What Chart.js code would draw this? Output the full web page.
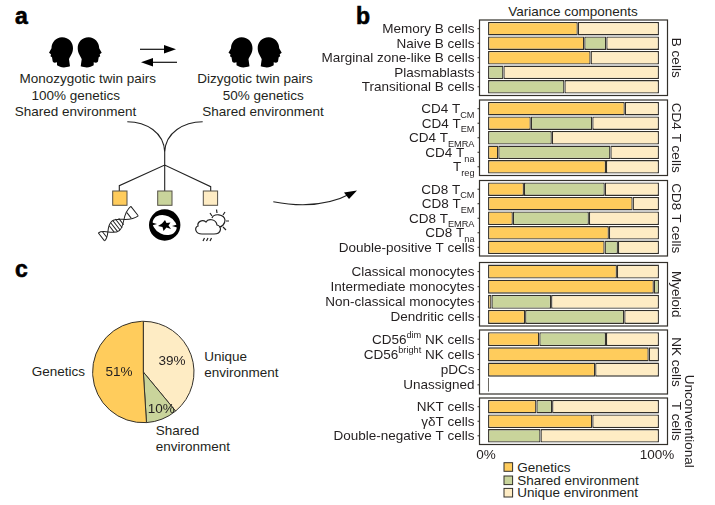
<!DOCTYPE html>
<html>
<head>
<meta charset="utf-8">
<title>Variance components</title>
<script src="https://cdn.jsdelivr.net/npm/chart.js@4"></script>
<style>
  html, body { margin: 0; padding: 0; background: #fff; }
  #page { position: relative; width: 715px; height: 505px; overflow: hidden; }
  #page canvas, #page svg { position: absolute; left: 0; top: 0; }
  svg text { font-family: "Liberation Sans", Arial, sans-serif; font-size: 13.5px; fill: #231f20; dominant-baseline: central; }
  svg text.letter { font-size: 23px; font-weight: bold; stroke: #000; stroke-width: .6px; fill: #000; }
</style>
</head>
<body>
<div id="page">
  <svg id="art" width="715" height="505" viewBox="0 0 715 505"></svg>
</div>
<script>
// values, percent of variance
const seriesNames = ['Genetics', 'Shared environment', 'Unique environment'];
const seriesColors = ['#ffcc5c', '#c9d49b', '#feecc4'];
const lineColor = '#33302a';

const bCellLabels = ['Memory B cells', 'Naive B cells', 'Marginal zone-like B cells', 'Plasmablasts', 'Transitional B cells'];
const bCellGenetics = [52.5, 56.3, 60, 0, 0];
const bCellShared = [0, 12.9, 0, 9, 44.7];
const bCellUnique = [47.5, 30.8, 40, 91, 55.3];

const cd4Labels = ['CD4 T_{CM}', 'CD4 T_{EM}', 'CD4 T_{EMRA}', 'CD4 T_{na}', 'T_{reg}'];
const cd4Genetics = [80, 25, 0, 6, 69];
const cd4Shared = [0, 36, 37.3, 65.6, 0];
const cd4Unique = [20, 39, 62.7, 28.4, 31];

const cd8Labels = ['CD8 T_{CM}', 'CD8 T_{EM}', 'CD8 T_{EMRA}', 'CD8 T_{na}', 'Double-positive T cells'];
const cd8Genetics = [21, 84.6, 14.5, 70.7, 68.2];
const cd8Shared = [47.3, 0, 44.5, 0, 7.8];
const cd8Unique = [31.7, 15.4, 41, 29.3, 24];

const myeloidLabels = ['Classical monocytes', 'Intermediate monocytes', 'Non-classical monocytes', 'Dendritic cells'];
const myeloidGenetics = [75.4, 97, 2, 21.7];
const myeloidShared = [0, 3, 34.9, 58];
const myeloidUnique = [24.6, 0, 63.1, 20.3];

const nkLabels = ['CD56^{dim} NK cells', 'CD56^{bright} NK cells', 'pDCs', 'Unassigned'];
const nkGenetics = [30, 94, 62.7, 0.5];
const nkShared = [39, 0, 0, 0];
const nkUnique = [31, 6, 37.3, 0];

const otherLabels = ['NKT cells', '\u03b3\u03b4T cells', 'Double-negative T cells'];
const otherGenetics = [28.3, 61, 0];
const otherShared = [9.2, 0, 30.7];
const otherUnique = [62.5, 39, 69.3];

const pieLabels = ['Unique environment', 'Shared environment', 'Genetics'];
const pieValues = [39, 10, 51];
const xTickValues = [0, 100];
const xTickLabels = ['0%', '100%'];

// frame boxes of the panels on the page
const frameLeft = 479.5, frameRight = 667.5;
const labelFont = '13.5px "Liberation Sans", Arial, sans-serif';
const smallFont = '9.2px "Liberation Sans", Arial, sans-serif';
const panels = [
  { labels: bCellLabels, g: bCellGenetics, s: bCellShared, u: bCellUnique, top: 20, bottom: 95.5, strip: ['B cells'] },
  { labels: cd4Labels, g: cd4Genetics, s: cd4Shared, u: cd4Unique, top: 100, bottom: 175.5, strip: ['CD4 T cells'] },
  { labels: cd8Labels, g: cd8Genetics, s: cd8Shared, u: cd8Unique, top: 180.5, bottom: 256, strip: ['CD8 T cells'] },
  { labels: myeloidLabels, g: myeloidGenetics, s: myeloidShared, u: myeloidUnique, top: 262.5, bottom: 326, strip: ['Myeloid'] },
  { labels: nkLabels, g: nkGenetics, s: nkShared, u: nkUnique, top: 330, bottom: 394, strip: ['NK cells'] },
  { labels: otherLabels, g: otherGenetics, s: otherShared, u: otherUnique, top: 398, bottom: 444.5, strip: ['T cells', 'Unconventional'], xAxis: true }
];

// labels like CD4 T_{CM} have a subscript, so the panel draws its own tick text
function drawRichLabel(ctx, label, right, y) {
  const parts = label.split(/([_^]\{[^}]*\})/).filter(p => p).map(p => {
    if (p[0] === '_' && p[1] === '{') return { text: p.slice(2, -1), font: smallFont, dy: 6 };
    if (p[0] === '^' && p[1] === '{') return { text: p.slice(2, -1), font: smallFont, dy: -4.5 };
    return { text: p, font: labelFont, dy: 0 };
  });
  let width = 0;
  parts.forEach(p => { ctx.font = p.font; width += ctx.measureText(p.text).width; });
  let x = right - width;
  parts.forEach(p => {
    ctx.font = p.font;
    ctx.fillText(p.text, x, y + p.dy);
    x += ctx.measureText(p.text).width;
  });
}

const panelDecor = {
  id: 'panelDecor',
  afterDraw(chart, args, opts) {
    const ctx = chart.ctx, area = chart.chartArea, y = chart.scales.y, x = chart.scales.x;
    const top = opts.frameTop, bottom = opts.frameBottom;
    ctx.save();
    ctx.strokeStyle = lineColor;
    ctx.lineWidth = 1.2;
    ctx.strokeRect(area.left, top, area.right - area.left, bottom - top);

    ctx.fillStyle = '#231f20';
    ctx.textAlign = 'left';
    ctx.textBaseline = 'middle';
    chart.data.labels.forEach((label, i) => {
      const py = y.getPixelForValue(i);
      ctx.lineWidth = 1;
      ctx.beginPath();
      ctx.moveTo(area.left - 2, py);
      ctx.lineTo(area.left, py);
      ctx.stroke();
      drawRichLabel(ctx, label, area.left - 5, py + 0.7);
    });

    // strip text on the right, turned a quarter clockwise
    ctx.textAlign = 'center';
    ctx.font = labelFont;
    opts.strip.forEach((text, i) => {
      ctx.save();
      ctx.translate(area.right + 8 + i * 13, (top + bottom) / 2);
      ctx.rotate(Math.PI / 2);
      ctx.fillText(text, 0, 0);
      ctx.restore();
    });

    if (opts.xAxis) {
      xTickValues.forEach((v, i) => {
        ctx.fillText(xTickLabels[i], x.getPixelForValue(v) - 2, bottom + 11);
      });
    }
    ctx.restore();
  }
};

panels.forEach(p => {
  const canvas = document.createElement('canvas');
  canvas.width = 715;
  canvas.height = 505;
  document.getElementById('page').appendChild(canvas);
  const n = p.labels.length;
  const inset = (p.bottom - p.top) * 0.1 / (n + 0.2);
  const makeSet = (name, data, i) => ({
    label: name,
    data: data,
    backgroundColor: seriesColors[i],
    borderColor: lineColor,
    borderWidth: 1.3,
    borderSkipped: false,
    barPercentage: 0.92,
    categoryPercentage: 1
  });
  new Chart(canvas, {
    type: 'bar',
    data: {
      labels: p.labels,
      datasets: [makeSet(seriesNames[0], p.g, 0), makeSet(seriesNames[1], p.s, 1), makeSet(seriesNames[2], p.u, 2)]
    },
    options: {
      indexAxis: 'y',
      responsive: false,
      animation: false,
      devicePixelRatio: 1,
      layout: { padding: { left: frameLeft, right: 715 - frameRight, top: p.top + inset, bottom: 505 - p.bottom + inset } },
      scales: {
        x: { display: false, stacked: true, min: -5, max: 105 },
        y: { display: false, stacked: true }
      },
      plugins: {
        legend: { display: false },
        tooltip: { enabled: false },
        panelDecor: { frameTop: p.top, frameBottom: p.bottom, strip: p.strip, xAxis: !!p.xAxis }
      }
    },
    plugins: [panelDecor]
  });
});

// panel c
const pieCx = 143.3, pieCy = 372, pieRadius = 50.7;
const pieTextReach = [0.6, 0.8, 0.48];
const pieText = {
  id: 'pieText',
  afterDraw(chart) {
    const ctx = chart.ctx;
    ctx.save();
    ctx.fillStyle = '#231f20';
    ctx.font = labelFont;
    ctx.textAlign = 'center';
    ctx.textBaseline = 'middle';
    chart.getDatasetMeta(0).data.forEach((arc, i) => {
      const a = arc.getProps(['startAngle', 'endAngle', 'x', 'y']);
      const mid = (a.startAngle + a.endAngle) / 2;
      const r = pieRadius * pieTextReach[i];
      ctx.fillText(pieValues[i] + '%', a.x + Math.cos(mid) * r + (i === 1 ? 3 : 0), a.y + Math.sin(mid) * r);
    });
    ctx.restore();
  }
};
const pieCanvas = document.createElement('canvas');
pieCanvas.width = 715;
pieCanvas.height = 505;
document.getElementById('page').appendChild(pieCanvas);
new Chart(pieCanvas, {
  type: 'pie',
  data: {
    labels: pieLabels,
    datasets: [{
      data: pieValues,
      backgroundColor: [seriesColors[2], seriesColors[1], seriesColors[0]],
      borderColor: lineColor,
      borderWidth: 1,
      borderAlign: 'center'
    }]
  },
  options: {
    responsive: false,
    animation: false,
    devicePixelRatio: 1,
    layout: { padding: { left: pieCx - 60, right: 715 - pieCx - 60, top: pieCy - 60, bottom: 505 - pieCy - 60 } },
    radius: pieRadius,
    plugins: { legend: { display: false }, tooltip: { enabled: false } }
  },
  plugins: [pieText]
});

// text and the drawings of panel a
const art = document.getElementById('art');
const svgNs = 'http://www.w3.org/2000/svg';
function addText(str, x, y, anchor, cls) {
  const t = document.createElementNS(svgNs, 'text');
  t.textContent = str;
  t.setAttribute('x', x);
  t.setAttribute('y', y);
  t.setAttribute('text-anchor', anchor || 'start');
  if (cls) t.setAttribute('class', cls);
  art.appendChild(t);
}
function addShape(tag, attrs, parent) {
  const el = document.createElementNS(svgNs, tag);
  Object.keys(attrs).forEach(k => el.setAttribute(k, attrs[k]));
  (parent || art).appendChild(el);
  return el;
}

addText('a', 15, 16, 'start', 'letter');
addText('b', 356, 15.5, 'start', 'letter');
addText('c', 15, 269, 'start', 'letter');
addText('Variance components', 573, 11.5, 'middle');

addText('Monozygotic twin pairs', 87.7, 78.5, 'middle');
addText('100% genetics', 75.7, 95.5, 'middle');
addText('Shared environment', 75.5, 111.7, 'middle');
addText('Dizygotic twin pairs', 255, 78.5, 'middle');
addText('50% genetics', 263.3, 95.5, 'middle');
addText('Shared environment', 263, 111.7, 'middle');

addText('Genetics', 85, 371, 'end');
addText('Unique', 204.3, 356);
addText('environment', 204.3, 372);
addText('Shared', 155.7, 430);
addText('environment', 155.7, 446);

seriesNames.forEach((name, i) => {
  const y = [467, 480.3, 492.7][i];
  addShape('rect', { x: 504, y: y - 4.3, width: 8.6, height: 8.6, fill: seriesColors[i], stroke: lineColor, 'stroke-width': 1 });
  addText(name, 517.3, y);
});

const headPath = 'M13 0C20 0 24 5 24 11C24 16 21 19 20 22L21 29C15 31 11 30 8 28L8 25C5 26 3.5 25 3.5 23L3 20L1.5 19L2 17L0 15.5L2.5 11C2.5 5 7 0 13 0Z';
[[49, 1], [101.7, -1], [228.5, 1], [281.7, -1]].forEach(h => {
  addShape('path', { d: headPath, fill: '#000', transform: 'translate(' + h[0] + ',37.3) scale(' + h[1] + ',1)' });
});

addShape('path', { d: 'M140 49.3H170', stroke: '#111', 'stroke-width': 1.2, fill: 'none' });
addShape('path', { d: 'M176 49.3L164 45V53.6Z', fill: '#000' });
addShape('path', { d: 'M177 62.3H147', stroke: '#111', 'stroke-width': 1.2, fill: 'none' });
addShape('path', { d: 'M141 62.3L153 58V66.6Z', fill: '#000' });

const tree = { stroke: '#222', 'stroke-width': 1.1, fill: 'none' };
addShape('path', Object.assign({ d: 'M127.3 121.7C146 122 164 132 164.7 152V165M202.7 121.7C184 122 165.5 132 164.7 152' }, tree));
addShape('path', Object.assign({ d: 'M119.3 191V185.7L164.7 165L210.7 186.7V191M164.7 165V191' }, tree));
[[112.7, 0], [157.7, 1], [203.3, 2]].forEach(s => {
  addShape('rect', { x: s[0], y: 191, width: 14.3, height: 14.3, fill: seriesColors[s[1]], stroke: '#555046', 'stroke-width': 1 });
});

// dna
const dna = addShape('g', { transform: 'translate(118,224) rotate(-38)', fill: 'none', stroke: '#222', 'stroke-width': 1 });
addShape('path', { d: 'M-21 -5C-14 -5 -11 6 -3 6C5 6 9 -6 21 -6' }, dna);
addShape('path', { d: 'M-21 5C-14 5 -11 -6 -3 -6C5 -6 9 6 21 6' }, dna);
addShape('path', { d: 'M-21 -5V5M21 -6V6M-17 -3.5V3.5M-8 -4V4M-5 -5.5V5.5M-2 -6V6M1 -5.5V5.5M4 -4V4M14 -3.5V3.5' }, dna);

// chromosome in a black disc
addShape('circle', { cx: 164.7, cy: 225, r: 15.7, fill: '#000' });
addShape('ellipse', { cx: 164.7, cy: 225, rx: 12.5, ry: 9.5, fill: '#fff', transform: 'rotate(25 164.7 225)' });
addShape('path', { d: 'M165 220L166.5 223L170.5 222.5L168.5 225.5L171 229L166.5 227.5L163.5 231L162.5 227L158 226L162 223.5Z', fill: '#000' });
addShape('path', { d: 'M150 226L157 224L150 222ZM179 224L172 226L179 228Z', fill: '#000' });

// cloud with sun and rain
const sky = { fill: 'none', stroke: '#222', 'stroke-width': 1.2 };
addShape('path', Object.assign({ d: 'M202 234H214C222 234 222 226 217 225C216 219 208 218 206 222C202 219 197 222 198 226C194 227 195 234 202 234Z' }, sky));
addShape('path', Object.assign({ d: 'M212 218C214 213 224 214 225 220C225 224 222 227 219 227' }, sky));
addShape('path', Object.assign({ d: 'M216.5 209.5L217 213M225 212L223 215M229 221H226M226 230L223 227M210 213L212 216' }, sky));
addShape('path', Object.assign({ d: 'M204.5 238L203 241M208 238L206.5 241M211.5 238L210 241' }, sky));

// curved arrow towards panel b
addShape('path', Object.assign({ d: 'M273.3 201.7C300 207 328 206 352 193' }, tree));
addShape('path', { d: 'M357 190.5L344 192.5L349 199Z', fill: '#000' });
</script>
</body>
</html>
